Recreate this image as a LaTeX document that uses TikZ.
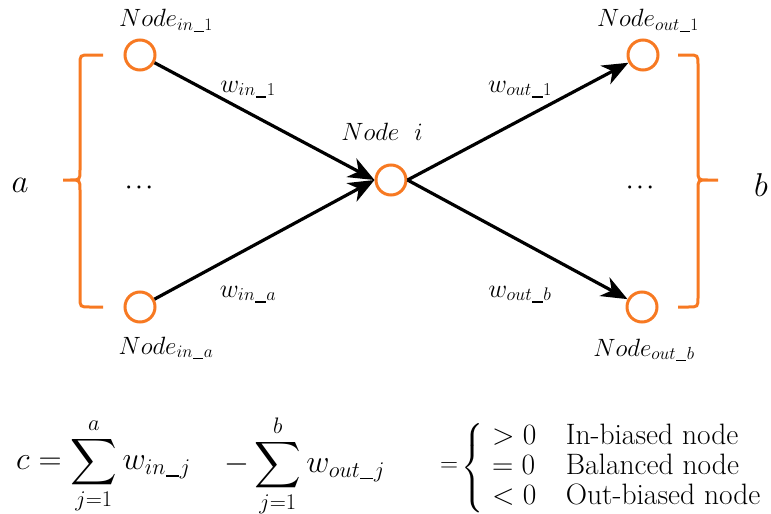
\RequirePackage{fix-cm}
\documentclass[tikz,border=0pt]{standalone}
\usepackage{amsmath}
\usepackage{graphicx}
\usetikzlibrary{arrows.meta}
\definecolor{ora}{RGB}{247,121,34}
\newcommand{\us}{\text{\kern0.03em\rule[-0.09em]{0.58em}{0.07em}\kern0.03em}}
\newcommand{\bsum}{\mathop{\vcenter{\hbox{\scalebox{1.3}{$\displaystyle\sum$}}}}\limits}
\tikzset{
  nd/.style={circle,draw=ora,line width=3pt,minimum size=30pt,inner sep=0pt,fill=white},
  arr/.style={line width=3.2pt,-{Stealth[length=26pt,width=21pt,inset=8pt]}},
  brc/.style={draw=ora,line width=3pt},
  lbl/.style={anchor=base,inner sep=0pt,font=\fontsize{25}{30}\selectfont},
  wl/.style={anchor=base,inner sep=0pt,font=\fontsize{26}{30}\selectfont},
  big/.style={inner sep=0pt,font=\fontsize{32}{36}\selectfont},
  dots/.style={inner sep=0pt,font=\fontsize{20}{24}\selectfont},
}
\begin{document}
\begin{tikzpicture}[x=1pt,y=-1pt]
\useasboundingbox (0,0) rectangle (771,514);
% nodes
\node[nd] (in1) at (140,55) {};
\node[nd] (ina) at (140,307) {};
\node[nd] (ni) at (391,180) {};
\node[nd] (o1) at (643,55) {};
\node[nd] (ob) at (642,307) {};
% arrows
\draw[arr] (in1) -- (ni.west);
\draw[arr] (ina) -- (ni.west);
\draw[arr] (ni.east) -- (o1);
\draw[arr] (ni.east) -- (ob);
% braces
\draw[brc] (103,55) -- (90,55) .. controls (80,55) .. (80,65) -- (80,170)
  .. controls (80,180) .. (70,180) -- (63,180) -- (70,180)
  .. controls (80,180) .. (80,190) -- (80,297) .. controls (80,307) .. (90,307) -- (103,307);
\draw[brc] (678,55) -- (688,55) .. controls (698,55) .. (698,65) -- (698,170)
  .. controls (698,180) .. (708,180) -- (718,180) -- (708,180)
  .. controls (698,180) .. (698,190) -- (698,297) .. controls (698,307) .. (688,307) -- (678,307);
% labels
\node[lbl] (l1) at (166,27) {$Node_{in\us 1}$};
\node[lbl] (l2) at (166,354) {$Node_{in\us a}$};
\node[lbl] (l3) at (382,140) {$Node\hspace{0.6em}i$};
\node[lbl] (l4) at (648,27) {$Node_{out\us 1}$};
\node[lbl] (l5) at (644,356) {$Node_{out\us b}$};
\node[wl] (w1) at (248,92) {$w_{in\us 1}$};
\node[wl] (w2) at (248,297) {$w_{in\us a}$};
\node[wl] (w3) at (520,92) {$w_{out\us 1}$};
\node[wl] (w4) at (520,297) {$w_{out\us b}$};
\node[dots] (d1) at (141,188) {$\boldsymbol{\cdots}$};
\node[dots] (d2) at (642,188) {$\boldsymbol{\cdots}$};
\node[inner sep=0pt,font=\fontsize{33}{36}\selectfont] (la) at (20,185) {$a$};
\node[inner sep=0pt,font=\fontsize{33}{36}\selectfont] (lb) at (761,185) {$b$};
% formula
\node[big,anchor=west] (f1) at (16,466) {$\displaystyle c=\bsum_{j=1}^{a} w_{in\us j}$};
\node[big,anchor=west] (f2) at (224,466) {$\displaystyle -\bsum_{j=1}^{b} w_{out\us j}$};
\node[inner sep=0pt,font=\fontsize{25}{28}\selectfont] (eq) at (449,467) {$=$};
\node[inner sep=0pt,anchor=west,font=\fontsize{29.5}{25}\selectfont] (cs) at (461,468)
  {$\begin{cases} \hspace{0.3em}>0 & \text{In-biased node}\\ \hspace{0.3em}=0 & \text{Balanced node}\\ \hspace{0.3em}<0 & \text{Out-biased node}\end{cases}$};
\end{tikzpicture}
\end{document}
